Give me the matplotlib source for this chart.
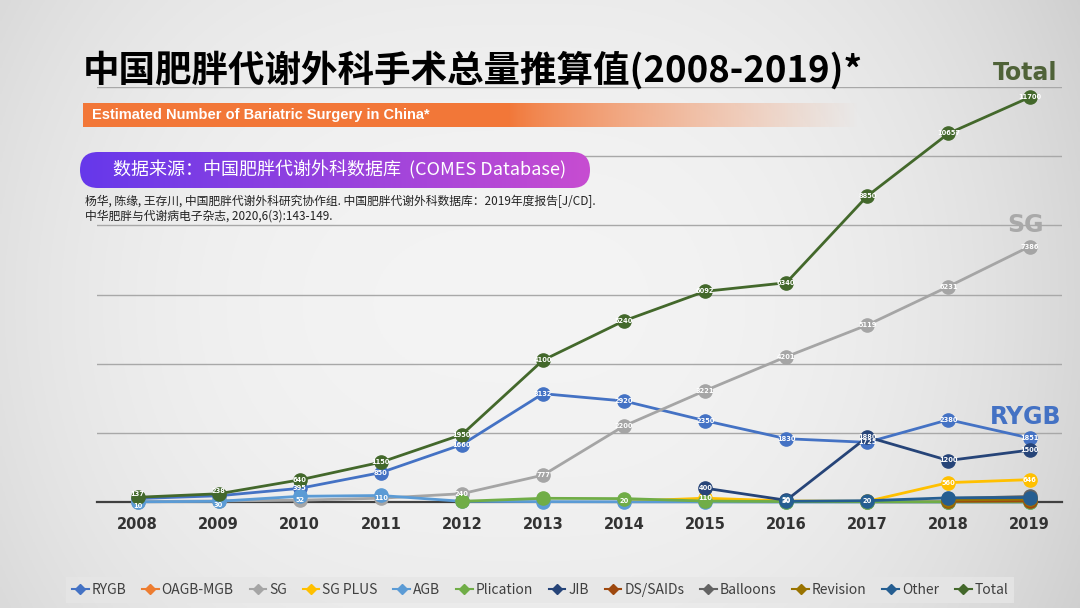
import numpy as np
import matplotlib.pyplot as plt
from matplotlib.lines import Line2D
from matplotlib.patches import FancyBboxPatch

plt.rcParams['font.family'] = ['Noto Sans CJK SC', 'DejaVu Sans']

years = [2008, 2009, 2010, 2011, 2012, 2013, 2014, 2015, 2016, 2017, 2018, 2019]
# None = no data that year
rygb = [100, 180, 395, 850, 1660, 3132, 2920, 2350, 1830, 1725, 2380, 1851]
oagb = [None, None, None, None, None, None, None, None, None, 5, 10, 20]
sg = [10, 30, 52, 110, 240, 777, 2200, 3221, 4201, 5119, 6231, 7386]
sg_plus = [None, None, None, None, None, None, 20, 110, 30, 20, 560, 646]
agb = [5, 20, 165, 188, 20, 10, 5, 5, 0, 0, 0, 0]
plication = [None, None, None, None, 20, 107, 98, 27, 12, 8, 5, 3]
jib = [None, None, None, None, None, None, None, 400, 50, 1880, 1200, 1500]
ds_saids = [None, None, None, None, None, None, None, None, None, None, 20, 30]
balloons = [None, None, None, None, None, None, None, None, None, None, 100, 160]
revision = [None, None, None, None, None, None, None, None, None, None, 60, 80]
other = [None, None, None, None, None, None, None, None, 20, 38, 120, 130]
total = [137, 238, 640, 1150, 1950, 4100, 5240, 6092, 6340, 8850, 10657, 11700]

series = [
    ('RYGB', rygb, '#4472C4'),
    ('OAGB-MGB', oagb, '#ED7D31'),
    ('SG', sg, '#A5A5A5'),
    ('SG PLUS', sg_plus, '#FFC000'),
    ('AGB', agb, '#5B9BD5'),
    ('Plication', plication, '#70AD47'),
    ('JIB', jib, '#264478'),
    ('DS/SAIDs', ds_saids, '#9E480E'),
    ('Balloons', balloons, '#636363'),
    ('Revision', revision, '#997300'),
    ('Other', other, '#255E91'),
    ('Total', total, '#43682B'),
]
labelled = ['RYGB', 'SG', 'SG PLUS', 'JIB', 'Total']

W, H = 1080, 608
fig = plt.figure(figsize=(W / 100, H / 100), dpi=100)

# background: light centre, darker edges
bg = fig.add_axes([0, 0, 1, 1], zorder=0)
xx = np.linspace(-1, 1, 400)
yy = np.linspace(-1, 1, 240)
X, Y = np.meshgrid(xx, yy)
shade = 0.955 - 0.11 * np.clip(X, 0, 1) ** 2.5 - 0.07 * np.clip(-X, 0, 1) ** 3 - 0.03 * Y ** 2
bg.imshow(np.dstack([shade] * 3), extent=[0, 1, 0, 1], aspect='auto')
bg.set_xlim(0, 1)
bg.set_ylim(0, 1)
bg.axis('off')

# chart
ax = fig.add_axes([97 / W, 1 - 502 / H, (1062 - 97) / W, (502 - 87) / H], zorder=2)
ax.patch.set_alpha(0)
for name, vals, col in series:
    v = np.array([np.nan if x is None else x for x in vals], dtype=float)
    ax.plot(years, v, color=col, lw=2, marker='o', ms=9.5, mec=col, mfc=col,
            clip_on=False, zorder=3)
    if name in labelled:
        for yr, val in zip(years, vals):
            if val is None:
                continue
            # small early values sit under the Total marker: nudge them down
            dy = -3 if (name != 'Total' and yr <= 2009) else 0
            if name == 'Total' and yr <= 2009:
                dy = 2
            if name == 'RYGB' and yr <= 2009:
                continue
            ax.annotate(str(val), (yr, val), xytext=(0, dy), textcoords='offset points',
                        ha='center', va='center', fontsize=4.8, color='white',
                        fontweight='bold', zorder=4, family=['DejaVu Sans'])

ax.set_xlim(2007.5, 2019.4)
ax.set_ylim(0, 12000)
ax.set_yticks(range(0, 12001, 2000))
ax.set_yticklabels([])
ax.tick_params(axis='y', length=0)
ax.grid(axis='y', color='#a8a8a8', lw=1)
ax.set_axisbelow(True)
ax.set_xticks(years)
ax.set_xticklabels([str(y) for y in years], fontsize=10.5, fontweight='bold',
                   color='#333333', family=['DejaVu Sans'])
ax.tick_params(axis='x', length=0, pad=11)
for s in ['top', 'right', 'left']:
    ax.spines[s].set_visible(False)
ax.spines['bottom'].set_color('#404040')
ax.spines['bottom'].set_linewidth(1.6)

ax.text(2018.95, 12050, 'Total', fontsize=17, fontweight='bold', color='#4F6238',
        ha='center', va='bottom', family=['DejaVu Sans'])
ax.text(2018.95, 7650, 'SG', fontsize=17, fontweight='bold', color='#A9A9A9',
        ha='center', va='bottom', family=['DejaVu Sans'])
ax.text(2018.95, 2100, 'RYGB', fontsize=17, fontweight='bold', color='#4472C4',
        ha='center', va='bottom', family=['DejaVu Sans'])

# legend
handles = [Line2D([0], [0], color=c, lw=1.5, marker='D', ms=5) for _, _, c in series]
leg = fig.legend(handles, [n for n, _, _ in series], loc='center',
                 bbox_to_anchor=(0.5, 1 - 590 / H), ncol=12, fontsize=10,
                 handlelength=1.2, handletextpad=0.2, columnspacing=1.15,
                 frameon=True, fancybox=False, borderpad=0.4)
leg.get_frame().set_facecolor('#e6e6e6')
leg.get_frame().set_edgecolor('none')
for t in leg.get_texts():
    t.set_color('#404040')

# header decorations in pixel coordinates
ov = fig.add_axes([0, 0, 1, 1], zorder=3)
ov.set_xlim(0, W)
ov.set_ylim(H, 0)
ov.axis('off')

ov.text(83, 70, '中国肥胖代谢外科手术总量推算值(2008-2019)*', fontsize=26.3,
        fontweight='bold', color='black', va='center', ha='left')

# orange band fading right
band = np.zeros((1, 300, 4))
band[..., 0] = 0.95
band[..., 1] = 0.47
band[..., 2] = 0.22
fade = np.clip((np.linspace(0, 1, 300) - 0.55) / 0.45, 0, 1)
band[..., 3] = 1 - fade ** 0.8
ov.imshow(band, extent=[83, 860, 127, 103], aspect='auto', zorder=1)
ov.text(92, 115, 'Estimated Number of Bariatric Surgery in China*', fontsize=10.5,
        fontweight='bold', color='white', va='center', ha='left',
        family=['Liberation Sans'], zorder=2)

# purple pill
pill = FancyBboxPatch((80, 152), 510, 36, boxstyle='round,pad=0,rounding_size=18',
                      transform=ov.transData, facecolor='none', edgecolor='none')
ov.add_patch(pill)
grad = np.zeros((1, 300, 3))
t = np.linspace(0, 1, 300)
grad[0, :, 0] = 0.40 + 0.38 * t
grad[0, :, 1] = 0.22 + 0.08 * t
grad[0, :, 2] = 0.92 - 0.10 * t
im = ov.imshow(grad, extent=[80, 590, 188, 152], aspect='auto', zorder=1)
im.set_clip_path(pill)
ov.text(340, 170, '数据来源：中国肥胖代谢外科数据库  (COMES Database)', fontsize=13,
        color='white', va='center', ha='center', zorder=2)

ov.text(85, 201, '杨华, 陈缘, 王存川, 中国肥胖代谢外科研究协作组. 中国肥胖代谢外科数据库：2019年度报告[J/CD].',
        fontsize=8.5, color='#222222', va='center', ha='left')
ov.text(85, 216, '中华肥胖与代谢病电子杂志, 2020,6(3):143-149.',
        fontsize=8.5, color='#222222', va='center', ha='left')

fig.savefig('out.png', dpi=100)
